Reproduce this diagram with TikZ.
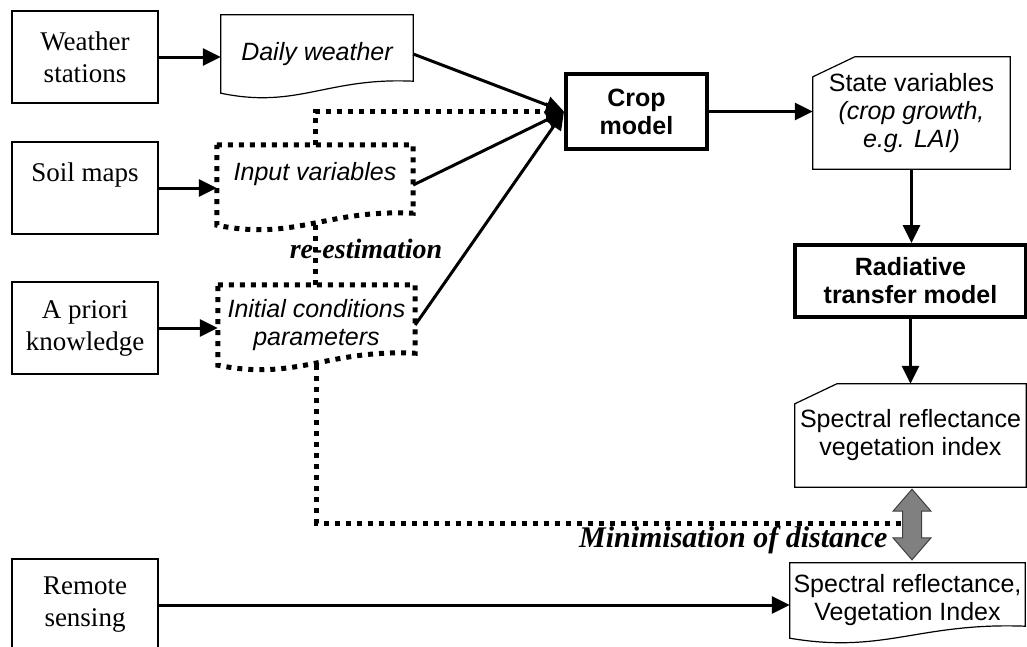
\documentclass[tikz,border=0pt]{standalone}
\usepackage{fontspec}
\setmainfont{Liberation Serif}
\setsansfont{Liberation Sans}
\usetikzlibrary{arrows.meta,calc}

\tikzset{
  src/.style={draw, line width=1.3pt, inner sep=0pt, minimum width=146pt, minimum height=92pt, align=center, font=\fontsize{27}{32}\selectfont},
  model/.style={draw, line width=4pt, inner sep=0pt, align=center, font=\sffamily\bfseries\fontsize{25}{28}\selectfont},
  docnode/.style={inner sep=0pt, align=center, font=\sffamily\fontsize{25}{28}\selectfont},
  arr/.style={line width=3pt, -{Triangle[length=18pt,width=17pt]}},
  dots/.style={line width=5pt, dash pattern=on 5pt off 6pt},
  outline/.style={line width=1.2pt},
  note/.style={font=\bfseries\itshape\fontsize{28}{32}\selectfont},
  bigarrow/.style={fill=gray, draw=black!75, line width=1pt},
}

\newcommand{\docline}[2]{%
  \draw[#2] (#1.north west) -- (#1.north east) -- ($(#1.south east)+(0,-12)$)
    .. controls ($(#1.south west)!0.55!(#1.south east)+(0,-16)$) and ($(#1.south west)!0.4!(#1.south east)+(0,16)$) .. (#1.south west) -- cycle;}
\newcommand{\cardline}[2]{%
  \draw[#2] (#1.south west) -- ($(#1.north west)+(0,20)$) -- ($(#1.north west)+(42,0)$) -- (#1.north east) -- (#1.south east) -- cycle;}

\begin{document}
\begin{tikzpicture}[x=1pt,y=-1pt]
      \useasboundingbox (0,0) rectangle (1027,646);
      \node[src] (ws) at (85,57) {Weather\\stations};
      \node[src] (soil) at (85,188) {Soil maps\\~};
      \node[src] (ap) at (85,328) {A priori\\knowledge};
      \node[src] (rs) at (85,605) {Remote\\sensing};

      \node[docnode, font=\sffamily\itshape\fontsize{25}{28}\selectfont, minimum width=192pt, minimum height=78pt] (dw) at (317,54) {Daily weather};
      \node[docnode, font=\sffamily\itshape\fontsize{25}{28}\selectfont, minimum width=196pt, minimum height=80pt] (iv) at (315,185) {Input variables\\~};
      \node[docnode, font=\sffamily\itshape\fontsize{25}{28}\selectfont, minimum width=197pt, minimum height=80pt] (ic) at (316.5,325) {Initial conditions\\parameters};
      \node[model, minimum width=141pt, minimum height=75pt] (cm) at (636.5,111.5) {Crop\\model};
      \node[docnode, minimum width=197pt, minimum height=112pt] (sv) at (911.5,113) {State variables\\\textit{(crop growth,}\\\textit{e.g. LAI)}};
      \node[model, minimum width=231pt, minimum height=72pt] (rt) at (910.5,281) {Radiative\\transfer model};
      \node[docnode, minimum width=231pt, minimum height=103pt] (sr) at (910.5,435.5) {Spectral reflectance\\vegetation index};
      \node[docnode, minimum width=235pt, minimum height=75pt] (sm) at (907.5,600.5) {Spectral reflectance,\\Vegetation Index};

      \docline{dw}{outline}
      \docline{iv}{dots}
      \docline{ic}{dots}
      \docline{sm}{outline}
      \cardline{sv}{outline}
      \cardline{sr}{outline}

      \node[note] (re) at (366,249) {re-estimation};
      \node[note, font=\bfseries\itshape\fontsize{30}{34}\selectfont, anchor=base east] (mind) at (891,547) {Minimisation of distance};

      \draw[arr] (ws.east) -- (ws.east -| dw.west);
      \draw[arr] (soil.east) -- (soil.east -| iv.west);
      \draw[arr] (ap.east) -- (ap.east -| ic.west);
      \draw[arr] (rs.east) -- (rs.east -| sm.west);
      \draw[arr] (dw.east) -- (cm.west);
      \draw[arr] (iv.east) -- (cm.west);
      \draw[arr] (ic.east) -- (cm.west);
      \draw[dots, -{Triangle[length=18pt,width=17pt]}] (iv.north) |- (cm.west);
      \draw[arr] (cm.east) -- (cm.east -| sv.west);
      \draw[arr] (sv.south) -- (sv.south |- rt.north);
      \draw[arr] (rt.south) -- (rt.south |- sr.north);
      \draw[dots] (iv.south) -- (iv.south |- ic.north);

      \coordinate (gtop) at ($(sr.south)+(1.5,2)$);
      \coordinate (gbot) at ($(gtop |- sm.north)+(0,-3)$);
      \draw[dots] (ic.south) |- ($(gtop)+(-9.5,34)$);
      \draw[bigarrow] (gtop) -- ++(19,22) -- ++(-9.5,0) -- ($(gbot)+(9.5,-22)$) -- ++(9.5,0) -- (gbot) -- ++(-19,-22) -- ++(9.5,0) -- ($(gtop)+(-9.5,22)$) -- ++(-9.5,0) -- cycle;
    \end{tikzpicture}
\end{document}
